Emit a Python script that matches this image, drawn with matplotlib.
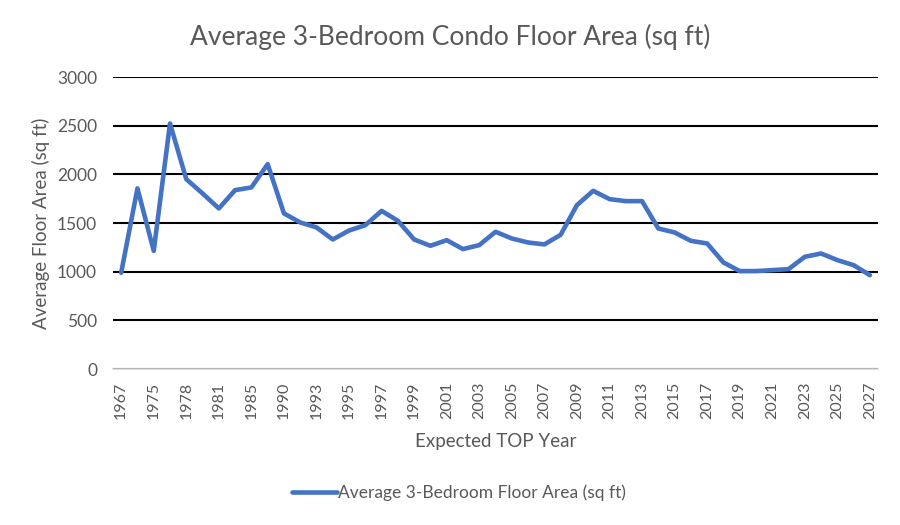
import matplotlib.pyplot as plt

plt.rcParams['font.family'] = ['Lato', 'DejaVu Sans']

# expected TOP years (only every other one is labelled on the axis)
years = ['1967', '1974', '1975', '1977', '1978', '1980', '1981', '1984', '1985', '1988',
         '1990', '1992', '1993', '1994', '1995', '1996', '1997', '1998', '1999', '2000',
         '2001', '2002', '2003', '2004', '2005', '2006', '2007', '2008', '2009', '2010',
         '2011', '2012', '2013', '2014', '2015', '2016', '2017', '2018', '2019', '2020',
         '2021', '2022', '2023', '2024', '2025', '2026', '2027']
avg_area = [990, 1857, 1215, 2524, 1952, 1805, 1651, 1839, 1867, 2106,
            1600, 1507, 1456, 1332, 1424, 1479, 1626, 1524, 1332, 1267,
            1325, 1233, 1274, 1411, 1342, 1301, 1281, 1380, 1685, 1832,
            1747, 1726, 1726, 1445, 1404, 1318, 1291, 1096, 1007, 1007,
            1017, 1027, 1154, 1188, 1120, 1068, 965]

grey = '#595959'
fig = plt.figure(figsize=(9, 5.25), dpi=100)
ax = fig.add_axes([0.1256, 0.297, 0.85, 0.556])

x = list(range(len(years)))
ax.plot(x, avg_area, color='#4472C4', linewidth=3.3, solid_joinstyle='round',
        solid_capstyle='round', label='Average 3-Bedroom Floor Area (sq ft)', zorder=3)

ax.set_xlim(-0.5, len(years) - 0.5)
ax.set_ylim(0, 3000)
ax.set_yticks(range(0, 3001, 500))
ax.yaxis.grid(True, color='black', linewidth=1.5)
ax.set_axisbelow(True)
for s in ['top', 'right', 'left']:
    ax.spines[s].set_visible(False)
ax.spines['bottom'].set_color('#d9d9d9')
ax.spines['bottom'].set_linewidth(1.2)
ax.spines['bottom'].set_zorder(2)

ax.set_xticks(x[::2])
ax.set_xticklabels(years[::2], rotation=90)
ax.tick_params(axis='both', length=0, colors=grey)
ax.tick_params(axis='x', pad=9, labelsize=11.5)
ax.tick_params(axis='y', pad=11.5, labelsize=12.5)

ax.set_xlabel('Expected TOP Year', color=grey, fontsize=13.5, labelpad=10)
ax.set_ylabel('Average Floor Area (sq ft)', color=grey, fontsize=13.5, labelpad=5)
fig.suptitle('Average 3-Bedroom Condo Floor Area (sq ft)', color=grey, fontsize=19, y=0.955)

fig.legend(loc='center', bbox_to_anchor=(0.51, 0.062), frameon=False, fontsize=12.5,
           labelcolor=grey, handlelength=2.6, handletextpad=0.1)

fig.savefig('out.png', dpi=100)
